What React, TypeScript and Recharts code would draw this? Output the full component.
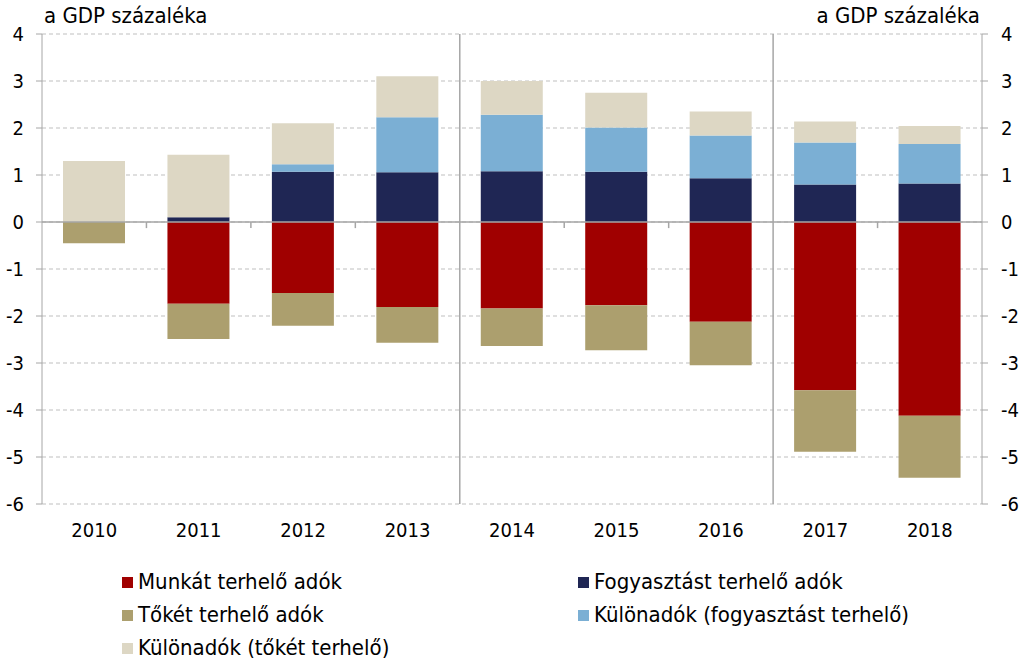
import React from 'react';
import { BarChart, Bar, XAxis, YAxis, CartesianGrid, ReferenceLine } from 'recharts';

const years = ['2010', '2011', '2012', '2013', '2014', '2015', '2016', '2017', '2018'];
const labour = [0, -1.74, -1.51, -1.81, -1.84, -1.77, -2.12, -3.58, -4.12];
const capital = [-0.45, -0.75, -0.7, -0.76, -0.8, -0.96, -0.93, -1.31, -1.32];
const consumption = [0, 0.1, 1.07, 1.06, 1.08, 1.07, 0.93, 0.8, 0.82];
const specialConsumption = [0, 0, 0.16, 1.17, 1.2, 0.94, 0.91, 0.89, 0.84];
const specialCapital = [1.3, 1.33, 0.87, 0.87, 0.72, 0.74, 0.51, 0.45, 0.38];
const yTicks = [-6, -5, -4, -3, -2, -1, 0, 1, 2, 3, 4];
// category boundaries: 2013|2014 and 2016|2017 get a full-height line
const dividers = [4, 7];
const boundaries = [1, 2, 3, 5, 6, 8];

const data = years.map((year, i) => ({
  year,
  pos: i + 0.5,
  labour: labour[i],
  capital: capital[i],
  consumption: consumption[i],
  specialConsumption: specialConsumption[i],
  specialCapital: specialCapital[i],
}));
const xTicks = data.map((d) => d.pos);

const series = [
  { key: 'labour', name: 'Munkát terhelő adók', color: '#a00000' },
  { key: 'capital', name: 'Tőkét terhelő adók', color: '#ac9f6e' },
  { key: 'consumption', name: 'Fogyasztást terhelő adók', color: '#1f2654' },
  { key: 'specialConsumption', name: 'Különadók (fogyasztást terhelő)', color: '#7bafd4' },
  { key: 'specialCapital', name: 'Különadók (tőkét terhelő)', color: '#ddd7c4' },
];

const legendOrder = ['labour', 'consumption', 'capital', 'specialConsumption', 'specialCapital'];

const font = '"DejaVu Sans Condensed", "DejaVu Sans", sans-serif';
const axisGrey = '#a6a6a6';
const tickStyle = { fontSize: 20, fill: '#000', fontFamily: font, fontStretch: 'condensed' };

export default function App() {
  return (
    <div style={{ position: 'absolute', left: 0, top: 0, width: 1024, height: 668, background: '#fff', fontFamily: font, fontStretch: 'condensed' }}>
      <div style={{ position: 'absolute', left: 44, top: 3, fontSize: 22 }}>a GDP százaléka</div>
      <div style={{ position: 'absolute', right: 44, top: 3, fontSize: 22 }}>a GDP százaléka</div>
      <BarChart
        width={1024}
        height={548}
        data={data}
        stackOffset="sign"
        barSize={62}
        margin={{ top: 34, right: 0, bottom: 0, left: 0 }}
      >
        <CartesianGrid yAxisId="left" vertical={false} stroke="#bfbfbf" strokeDasharray="4 3" />
        <XAxis
          dataKey="pos"
          type="number"
          domain={[0, 9]}
          allowDataOverflow
          ticks={xTicks}
          interval={0}
          tickFormatter={(v: number) => years[Math.floor(v)]}
          tick={tickStyle}
          axisLine={false}
          tickLine={false}
          tickMargin={13}
          height={44}
          padding={{ left: 0, right: 0 }}
        />
        <YAxis
          yAxisId="left"
          type="number"
          domain={[-6, 4]}
          allowDataOverflow
          ticks={yTicks}
          interval={0}
          width={42}
          tick={tickStyle}
          stroke={axisGrey}
          tickSize={6}
          tickMargin={12}
        />
        <YAxis
          yAxisId="right"
          orientation="right"
          type="number"
          domain={[-6, 4]}
          allowDataOverflow
          ticks={yTicks}
          interval={0}
          width={42}
          tick={tickStyle}
          stroke={axisGrey}
          tickSize={6}
          tickMargin={13}
        />
        {series.map((s) => (
          <Bar key={s.key} dataKey={s.key} name={s.name} stackId="a" yAxisId="left" fill={s.color} isAnimationActive={false} />
        ))}
        <ReferenceLine yAxisId="right" y={0} stroke={axisGrey} strokeWidth={1.5} />
        {dividers.map((d) => (
          <ReferenceLine key={d} yAxisId="left" x={d} stroke={axisGrey} strokeWidth={1.5} />
        ))}
        {boundaries.map((b) => (
          <ReferenceLine
            key={b}
            yAxisId="left"
            segment={[{ x: b, y: 0 }, { x: b, y: -0.13 }]}
            stroke={axisGrey}
            strokeWidth={1.5}
          />
        ))}
      </BarChart>
      <div
        style={{
          position: 'absolute',
          left: 122,
          top: 569,
          display: 'grid',
          gridTemplateColumns: '456px auto',
          rowGap: 7,
          fontSize: 22,
          lineHeight: '26px',
        }}
      >
        {legendOrder.map((k) => {
          const s = series.find((x) => x.key === k)!;
          return (
            <div key={k} style={{ display: 'flex', alignItems: 'center' }}>
              <span style={{ display: 'inline-block', width: 11, height: 11, background: s.color, marginRight: 5 }} />
              <span>{s.name}</span>
            </div>
          );
        })}
      </div>
    </div>
  );
}
